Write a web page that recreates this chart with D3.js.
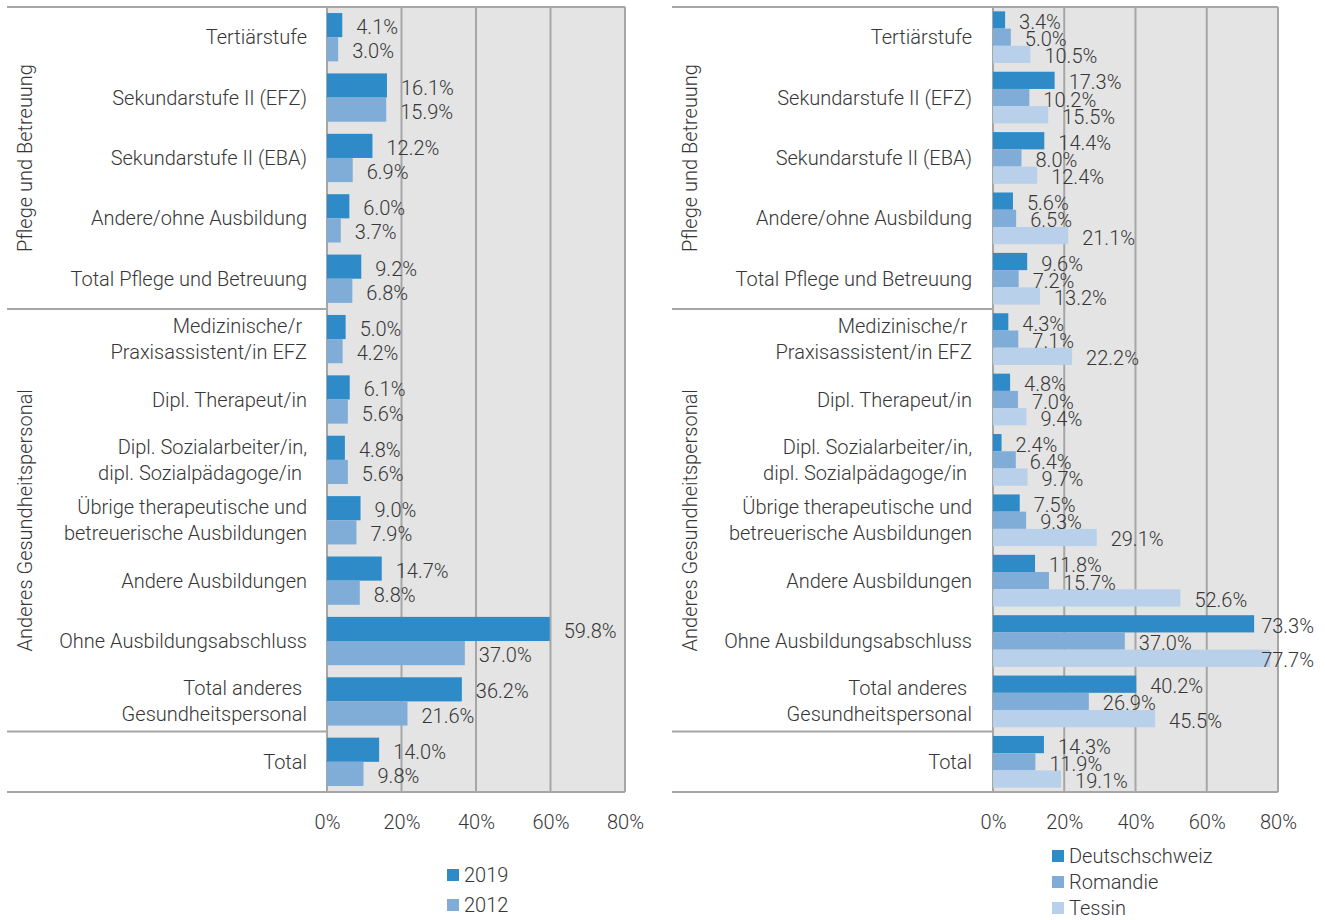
<!DOCTYPE html>
<html><head><meta charset="utf-8">
<script src="https://cdn.jsdelivr.net/npm/d3@7/dist/d3.min.js"></script>
<style>
body{margin:0;background:#fff;}
text{font-family:Roboto,"Noto Sans",sans-serif;font-weight:300;fill:#363636;}
</style></head>
<body><svg id="c" width="1325" height="920"></svg>
<script>
// ---- data ----
const categories = [
  "Tertiärstufe","Sekundarstufe II (EFZ)","Sekundarstufe II (EBA)","Andere/ohne Ausbildung","Total Pflege und Betreuung",
  "Medizinische/r \nPraxisassistent/in EFZ","Dipl. Therapeut/in","Dipl. Sozialarbeiter/in,\ndipl. Sozialpädagoge/in ",
  "Übrige therapeutische und\nbetreuerische Ausbildungen","Andere Ausbildungen","Ohne Ausbildungsabschluss",
  "Total anderes \nGesundheitspersonal","Total"
];
const groups = ["Pflege und Betreuung","Anderes Gesundheitspersonal",""];
const groupOf = [0,0,0,0,0,1,1,1,1,1,1,1,2];
const yearSeries = ["2019","2012"];
const v2019 = [4.1,16.1,12.2,6.0,9.2,5.0,6.1,4.8,9.0,14.7,59.8,36.2,14.0];
const v2012 = [3.0,15.9,6.9,3.7,6.8,4.2,5.6,5.6,7.9,8.8,37.0,21.6,9.8];
const regionSeries = ["Deutschschweiz","Romandie","Tessin"];
const deutschschweiz = [3.4,17.3,14.4,5.6,9.6,4.3,4.8,2.4,7.5,11.8,73.3,40.2,14.3];
const romandie = [5.0,10.2,8.0,6.5,7.2,7.1,7.0,6.4,9.3,15.7,37.0,26.9,11.9];
const tessin = [10.5,15.5,12.4,21.1,13.2,22.2,9.4,9.7,29.1,52.6,77.7,45.5,19.1];
const xTicks = [0,20,40,60,80];

// ---- drawing ----
const svg = d3.select("#c");
const FS = 20;
const GRID = "#a6a6a6";

function panel(cfg){
  const g = svg.append("g");
  const x = d3.scaleLinear().domain([0,80]).range([cfg.x0,cfg.x1]);
  const y = d3.scaleBand().domain(d3.range(categories.length)).range([7,792]);
  const bandH = y.bandwidth()*(1-2*cfg.pad);
  const barH = bandH/cfg.series.length;

  g.append("rect").attr("x",x(0)).attr("y",y.range()[0]).attr("width",x(80)-x(0))
   .attr("height",y.range()[1]-y.range()[0]).attr("fill","#e4e4e4");
  g.selectAll(".grid").data(xTicks).join("line")
   .attr("x1",d=>x(d)).attr("x2",d=>x(d)).attr("y1",7).attr("y2",792)
   .attr("stroke",GRID).attr("stroke-width",2);

  cfg.series.forEach((vals,si)=>{
    g.selectAll(null).data(vals).join("rect")
     .attr("x",x(0)).attr("width",d=>x(d)-x(0))
     .attr("y",(d,i)=>y(i)+y.bandwidth()*cfg.pad+si*barH).attr("height",barH)
     .attr("fill",cfg.colors[si]);
  });
  cfg.series.forEach((vals,si)=>{
    g.selectAll(null).data(vals).join("text")
     .attr("x",d=>x(d)+14)
     .attr("y",(d,i)=>y(i)+y.bandwidth()*cfg.pad+si*barH+barH/2+2)
     .attr("dominant-baseline","central").attr("font-size",FS)
     .text(d=>d.toFixed(1)+"%")
     .each(function(d){
        const w=this.getComputedTextLength();
        const xx=+this.getAttribute("x");
        if(xx+w>cfg.maxRight) this.setAttribute("x",cfg.maxRight-w);
     });
  });

  categories.forEach((c,i)=>{
    const lines=c.split("\n");
    const t=g.append("text").attr("text-anchor","end").attr("font-size",FS)
      .style("white-space","pre");
    lines.forEach((ln,li)=>{
      t.append("tspan").attr("x",cfg.labelRight)
       .attr("y",y(i)+y.bandwidth()/2+(li-(lines.length-1)/2)*26)
       .attr("dominant-baseline","central").text(ln);
    });
  });

  const seps=[7];
  for(let i=1;i<categories.length;i++) if(groupOf[i]!==groupOf[i-1]) seps.push(y(i));
  seps.push(792);
  g.selectAll(".sep").data(seps).join("line")
   .attr("x1",cfg.lineLeft).attr("x2",(d,i)=>(i===0||i===seps.length-1)?x(80):x(0))
   .attr("y1",d=>d).attr("y2",d=>d).attr("stroke",GRID).attr("stroke-width",2);

  groups.forEach((gn,gi)=>{
    if(!gn) return;
    const idx=d3.range(categories.length).filter(i=>groupOf[i]===gi);
    const cy=(y(idx[0])+y(idx[idx.length-1])+y.bandwidth())/2;
    g.append("text").attr("transform",`translate(${cfg.groupX},${cy}) rotate(-90)`)
     .attr("text-anchor","middle").attr("dominant-baseline","central")
     .attr("font-size",FS).text(gn);
  });

  const ax=d3.axisBottom(x).tickValues(xTicks).tickFormat(d=>d+"%").tickSize(0).tickPadding(0);
  const axg=g.append("g").attr("transform","translate(0,822)").call(ax);
  axg.select(".domain").remove();
  axg.selectAll("text").attr("font-size",FS).attr("dy",null).attr("dominant-baseline","central")
     .style("font-family","Roboto").style("font-weight",300).attr("fill","#363636");

  cfg.names.forEach((n,i)=>{
    const ly=cfg.legY+i*cfg.legStep;
    g.append("rect").attr("x",cfg.legX).attr("y",ly-6).attr("width",12).attr("height",12).attr("fill",cfg.colors[i]);
    g.append("text").attr("x",cfg.legX+17).attr("y",ly).attr("dominant-baseline","central")
     .attr("font-size",FS).text(n);
  });
}

panel({x0:327,x1:625,labelRight:307,lineLeft:7,groupX:25,pad:0.1,
  series:[v2019,v2012],names:yearSeries,colors:["#2e8bc7","#80acd8"],
  maxRight:660,legX:447,legY:875,legStep:30});
panel({x0:993,x1:1278,labelRight:972,lineLeft:672,groupX:690,pad:0.072,
  series:[deutschschweiz,romandie,tessin],names:regionSeries,colors:["#2e8bc7","#80acd8","#b8d0ea"],
  maxRight:1314,legX:1052,legY:856,legStep:26});
</script></body></html>
